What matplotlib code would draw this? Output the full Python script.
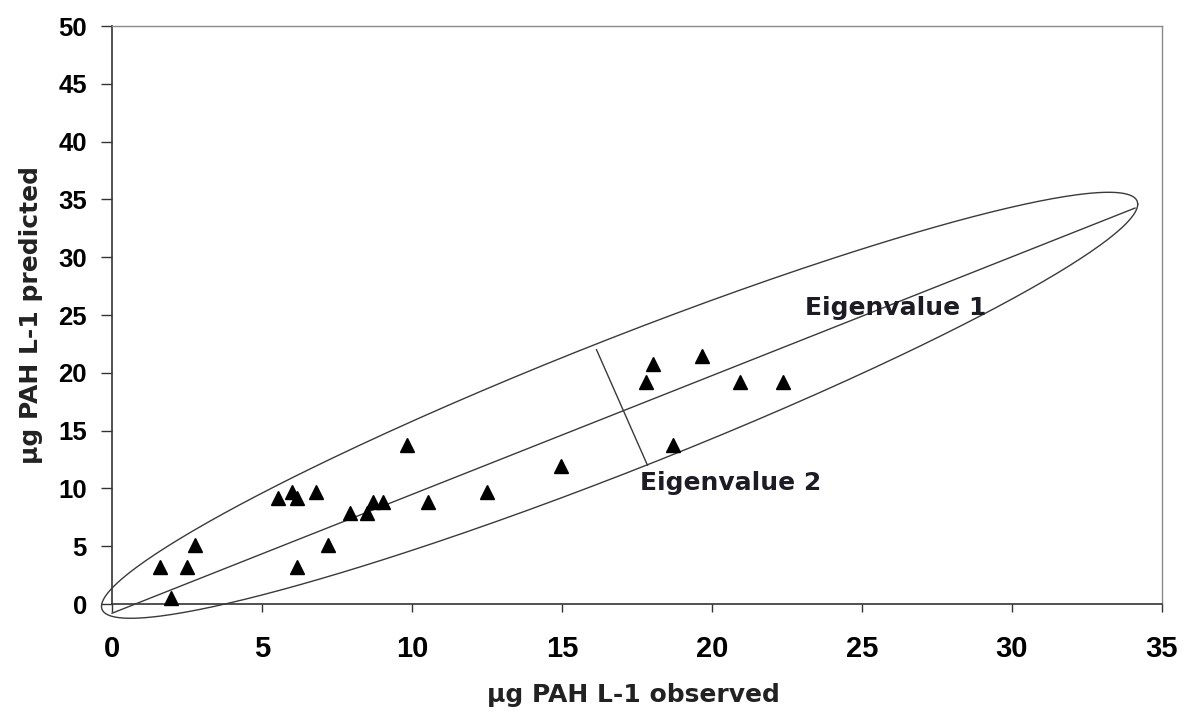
import numpy as np
import matplotlib
matplotlib.use("Agg")
import matplotlib.pyplot as plt

# ---- data ----
observed = [1.6, 1.97, 2.5, 2.78, 5.52, 5.99, 6.16, 6.16, 6.8, 7.2, 7.93, 8.49,
            8.71, 9.04, 9.82, 10.54, 12.49, 14.97, 17.79, 18.04, 18.69, 19.66,
            20.93, 22.38]
predicted = [3.2, 0.5, 3.2, 5.1, 9.2, 9.65, 9.2, 3.2, 9.65, 5.1, 7.85, 7.85,
             8.8, 8.8, 13.75, 8.8, 9.65, 11.95, 19.2, 20.8, 13.75, 21.45,
             19.2, 19.2]

x_ticks = [0, 5, 10, 15, 20, 25, 30, 35]
y_ticks = [0, 5, 10, 15, 20, 25, 30, 35, 40, 45, 50]

# confidence ellipse (centre and conjugate semi-diameters, data units)
ell_center = (16.92, 17.19)
ell_semi_a = (17.27, 17.39)
ell_semi_b = (0.0, 6.09)

# eigenvector lines
eig1_x = [0.0, 34.1]
eig1_y = [-0.8, 34.25]
eig2_x = [16.15, 17.85]
eig2_y = [22.0, 12.0]

eig1_label = "Eigenvalue 1"
eig1_pos = (23.1, 25.0)
eig2_label = "Eigenvalue 2"
eig2_pos = (17.6, 9.86)

xlabel = "µg PAH L-1 observed"
ylabel = "µg PAH L-1 predicted"

# ---- figure ----
fig = plt.figure(figsize=(11.88, 7.16), dpi=100)
ax = fig.add_axes([112/1188, 1 - 604/716, (1162-112)/1188, (604-26)/716])

line_col = "#3a3a3a"
t = np.linspace(0, 2*np.pi, 400)
ex = ell_center[0] + ell_semi_a[0]*np.cos(t) + ell_semi_b[0]*np.sin(t)
ey = ell_center[1] + ell_semi_a[1]*np.cos(t) + ell_semi_b[1]*np.sin(t)
ax.plot(ex, ey, color=line_col, lw=1.0, clip_on=False, zorder=3)
ax.plot(eig1_x, eig1_y, color=line_col, lw=1.0, clip_on=False, zorder=3)
ax.plot(eig2_x, eig2_y, color=line_col, lw=1.0, clip_on=False, zorder=3)

ax.plot(observed, predicted, linestyle="none", marker="^", markersize=10,
        color="black", zorder=4, clip_on=False)

ax.text(eig1_pos[0], eig1_pos[1], eig1_label, family="DejaVu Sans", weight="bold",
        fontsize=18, color="#1c1c24", ha="left", va="baseline")
ax.text(eig2_pos[0], eig2_pos[1], eig2_label, family="DejaVu Sans", weight="bold",
        fontsize=18, color="#1c1c24", ha="left", va="baseline")

ax.set_xlim(0, 35)
ax.set_ylim(0, 50)
ax.set_xticks(x_ticks)
ax.set_yticks(y_ticks)
ax.set_xticklabels([str(v) for v in x_ticks], family="Liberation Sans",
                   weight="bold", fontsize=21)
ax.set_yticklabels([str(v) for v in y_ticks], family="Liberation Sans",
                   weight="bold", fontsize=18.5)
ax.tick_params(axis="x", direction="out", length=6, width=1.0, pad=16,
               color="#333333")
ax.tick_params(axis="y", direction="out", length=8, width=1.0, pad=10,
               color="#333333")

for s in ["left", "bottom"]:
    ax.spines[s].set_color("#333333")
    ax.spines[s].set_linewidth(1.2)
for s in ["top", "right"]:
    ax.spines[s].set_color("#8a8a8a")
    ax.spines[s].set_linewidth(1.0)

fig.text(633/1188, (716-702)/716, xlabel, family="DejaVu Sans", weight="bold",
         fontsize=18, color="#222222", ha="center", va="baseline")
fig.text(38/1188, 1 - 315/716, ylabel, family="DejaVu Sans", weight="bold",
         fontsize=18, color="#222222", ha="center", va="baseline",
         rotation=90, rotation_mode="anchor")

fig.savefig("out.png", dpi=100)
